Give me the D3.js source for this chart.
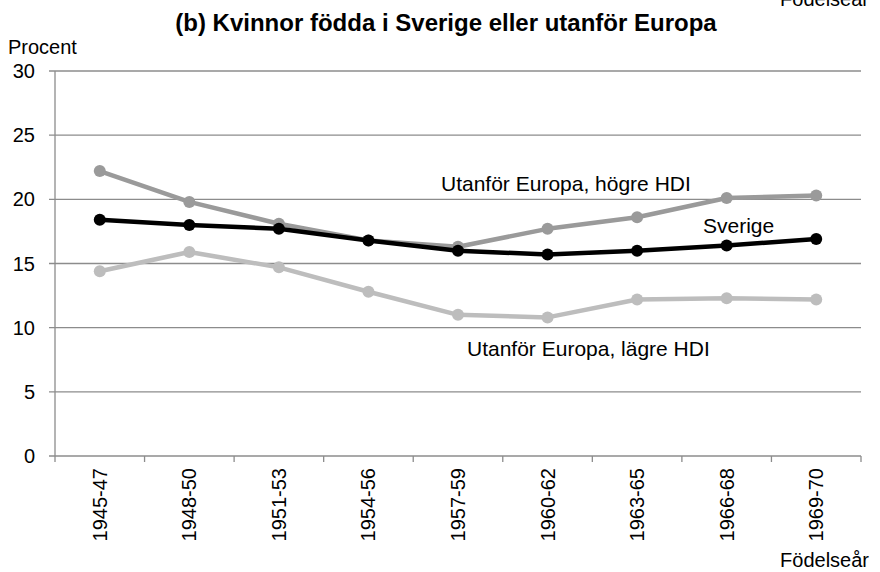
<!DOCTYPE html>
<html>
<head>
<meta charset="utf-8">
<script src="https://cdn.jsdelivr.net/npm/d3@7"></script>
<style>
	body { margin: 0; background: #fff; }
	svg { display: block; font-family: "Liberation Sans", Arial, sans-serif; }
</style>
</head>
<body>
<svg id="chart" width="880" height="572"></svg>
<script>
// data
var periods = ['1945-47', '1948-50', '1951-53', '1954-56', '1957-59', '1960-62', '1963-65', '1966-68', '1969-70'];
var hogreHDI = [22.2, 19.8, 18.1, 16.8, 16.3, 17.7, 18.6, 20.1, 20.3];
var sverige = [18.4, 18.0, 17.7, 16.8, 16.0, 15.7, 16.0, 16.4, 16.9];
var lagreHDI = [14.4, 15.9, 14.7, 12.8, 11.0, 10.8, 12.2, 12.3, 12.2];
var yTicks = [0, 5, 10, 15, 20, 25, 30];

var svg = d3.select('#chart');
var margin = {top: 71, right: 19, bottom: 116, left: 55};
var width = 880 - margin.left - margin.right;
var height = 572 - margin.top - margin.bottom;
var grid = '#8c8c8c';
var fs = 20;

var x = d3.scaleBand().domain(periods).range([0, width]);
var y = d3.scaleLinear().domain([0, 30]).range([height, 0]);

var g = svg.append('g')
	.attr('transform', 'translate(' + margin.left + ',' + margin.top + ')');

// gridlines
g.selectAll('.grid').data(yTicks).enter().append('line')
	.attr('x1', -6).attr('x2', width)
	.attr('y1', function (d) { return y(d); })
	.attr('y2', function (d) { return y(d); })
	.attr('stroke', grid).attr('stroke-width', 1.3);

g.selectAll('.ylab').data(yTicks).enter().append('text')
	.attr('x', -20).attr('y', function (d) { return y(d); })
	.attr('dy', '0.35em')
	.attr('text-anchor', 'end')
	.attr('font-size', fs)
	.text(function (d) { return d; });

// y axis line
g.append('line')
	.attr('x1', 0).attr('x2', 0).attr('y1', 0).attr('y2', height)
	.attr('stroke', grid).attr('stroke-width', 1.3);

// x ticks at band edges
var edges = periods.map(function (p) { return x(p); }).concat([width]);
g.selectAll('.xtick').data(edges).enter().append('line')
	.attr('x1', function (d) { return d; }).attr('x2', function (d) { return d; })
	.attr('y1', height).attr('y2', height + 6)
	.attr('stroke', grid).attr('stroke-width', 1.3);

g.selectAll('.xlab').data(periods).enter().append('text')
	.attr('transform', function (d) {
		return 'translate(' + (x(d) + x.bandwidth() / 2) + ',' + (height + 12) + ') rotate(-90)';
	})
	.attr('dy', '0.35em')
	.attr('text-anchor', 'end')
	.attr('font-size', fs)
	.text(function (d) { return d; });

var series = [
	{values: lagreHDI, color: '#bdbdbd'},
	{values: hogreHDI, color: '#9a9a9a'},
	{values: sverige, color: '#000'}
];

var line = d3.line()
	.x(function (d, i) { return x(periods[i]) + x.bandwidth() / 2; })
	.y(function (d) { return y(d); });

series.forEach(function (s) {
	g.append('path')
		.datum(s.values)
		.attr('d', line)
		.attr('fill', 'none')
		.attr('stroke', s.color)
		.attr('stroke-width', 4.5)
		.attr('stroke-linejoin', 'round');
	g.selectAll(null).data(s.values).enter().append('circle')
		.attr('cx', function (d, i) { return x(periods[i]) + x.bandwidth() / 2; })
		.attr('cy', function (d) { return y(d); })
		.attr('r', 6)
		.attr('fill', s.color);
});

// series labels
svg.append('text').attr('x', 441).attr('y', 191).attr('font-size', 21)
	.text('Utanför Europa, högre HDI');
svg.append('text').attr('x', 703).attr('y', 233).attr('font-size', 21)
	.text('Sverige');
svg.append('text').attr('x', 467).attr('y', 356).attr('font-size', 21)
	.text('Utanför Europa, lägre HDI');

// titles
svg.append('text').attr('x', 446).attr('y', 31)
	.attr('text-anchor', 'middle')
	.attr('font-size', 24).attr('font-weight', 'bold')
	.text('(b) Kvinnor födda i Sverige eller utanför Europa');
svg.append('text').attr('x', 8).attr('y', 54).attr('font-size', fs)
	.text('Procent');
svg.append('text').attr('x', 869).attr('y', 6)
	.attr('text-anchor', 'end').attr('font-size', fs)
	.text('Födelseår');
svg.append('text').attr('x', 869).attr('y', 567)
	.attr('text-anchor', 'end').attr('font-size', fs)
	.text('Födelseår');
</script>
</body>
</html>
